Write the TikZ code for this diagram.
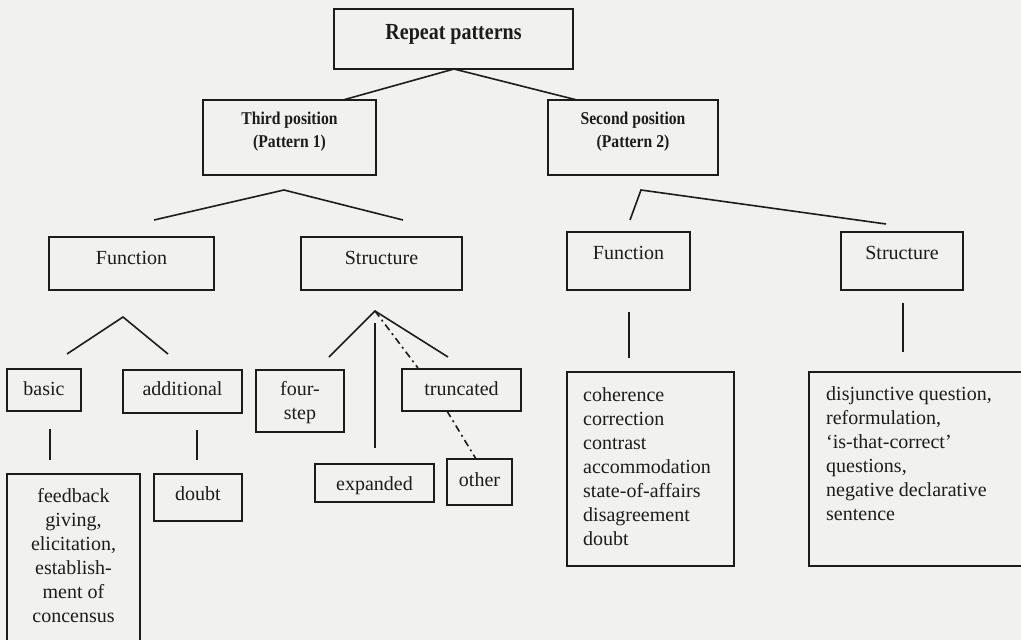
\documentclass[tikz,border=0pt]{standalone}
\usepackage{fontspec}
\setmainfont{Liberation Serif}
\newfontfamily\condfont[FakeStretch=0.87]{Liberation Serif}
\definecolor{bg}{RGB}{241,241,240}
\definecolor{ink}{RGB}{28,28,28}
\newcommand\bx[5]{\node[box, minimum width={(#4-#2)*1pt}, minimum height={(#5-#3)*1pt}] (#1) at (#2,#3) {};}
\begin{document}
\begin{tikzpicture}[x=1pt,y=-1pt,
  box/.style={draw=ink, line width=1.8pt, inner sep=0pt, outer sep=0pt, anchor=north west},
  txt/.style={text=ink, font=\fontsize{20}{24}\selectfont, inner sep=0pt, anchor=base},
  lst/.style={txt, align=left, anchor=base west},
  ttl/.style={text=ink, font=\condfont\bfseries\fontsize{23}{27}\selectfont, inner sep=0pt, anchor=base},
  sub/.style={text=ink, font=\condfont\bfseries\fontsize{18}{23}\selectfont, inner sep=0pt, anchor=base, align=center},
  conn/.style={draw=ink, line width=1.6pt},
  dd/.style={conn, dash pattern=on 7pt off 4pt on 2pt off 4pt}]
\fill[bg] (0,0) rectangle (1021,640);
\useasboundingbox (0,0) rectangle (1021,640);
% boxes
\bx{rp}{334}{9}{573}{69}
\bx{tp}{203}{100}{376}{175}
\bx{sp}{548}{100}{718}{175}
\bx{fnL}{49}{237}{214}{290}
\bx{stL}{301}{237}{462}{290}
\bx{fnR}{567}{232}{690}{290}
\bx{stR}{841}{232}{963}{290}
\bx{bas}{7}{369}{81}{411}
\bx{add}{123}{370}{242}{413}
\bx{fou}{256}{370}{344}{432}
\bx{tru}{402}{369}{521}{411}
\bx{exp}{315}{464}{434}{502}
\bx{oth}{447}{459}{512}{505}
\bx{fee}{7}{474}{140}{660}
\bx{dou}{154}{474}{242}{521}
\bx{fnl}{567}{372}{734}{566}
\bx{stl}{809}{372}{1030}{566}
% texts (multi-line: base = last line)
\node[ttl] (rpt) at (453.5,39) {Repeat patterns};
\node[sub] (tpt) at (289.5,147) {Third position\\(Pattern 1)};
\node[sub] (spt) at (633,147) {Second position\\(Pattern 2)};
\node[txt] (fnLt) at (131.5,264) {Function};
\node[txt] (stLt) at (381.5,264) {Structure};
\node[txt] (fnRt) at (628.5,259) {Function};
\node[txt] (stRt) at (902,259) {Structure};
\node[txt] (bast) at (44,395) {basic};
\node[txt] (addt) at (182.5,395) {additional};
\node[txt, align=center] (fout) at (300,419) {four-\\step};
\node[txt] (trut) at (461.5,395) {truncated};
\node[txt] (expt) at (374.5,490) {expanded};
\node[txt] (otht) at (479.5,486) {other};
\node[txt] (dout) at (198,500) {doubt};
\node[txt, align=center] (feet) at (73.5,622) {feedback\\giving,\\elicitation,\\establish-\\ment of\\concensus};
\node[lst] (fnlt) at (583,545) {coherence\\correction\\contrast\\accommodation\\state-of-affairs\\disagreement\\doubt};
\node[lst] (stlt) at (826,520) {disjunctive question,\\reformulation,\\‘is-that-correct’\\questions,\\negative declarative\\sentence};
% connector points
\coordinate (rpB) at (454,69);
\coordinate (tpT) at (343,100);
\coordinate (spT) at (577,100);
\coordinate (aT) at (284,190);
\coordinate (aTl) at (154,220);
\coordinate (aTr) at (403,220);
\coordinate (aS) at (641,190);
\coordinate (aSl) at (630,220);
\coordinate (aSr) at (886,224);
\coordinate (aF) at (123,317);
\coordinate (aFl) at (67,354);
\coordinate (aFr) at (168,354);
\coordinate (aX) at (375,311);
\coordinate (aXl) at (329,357);
\coordinate (aXr) at (448,357);
\coordinate (aXv) at (375,323);
\coordinate (aXb) at (375,448);
\coordinate (truT) at (418,368);
\coordinate (truB) at (447,411);
\coordinate (othT) at (476,459);
\coordinate (basA) at (50,429);
\coordinate (basB) at (50,460);
\coordinate (addA) at (197,430);
\coordinate (addB) at (197,460);
\coordinate (fnRA) at (629,312);
\coordinate (fnRB) at (629,358);
\coordinate (stRA) at (903,303);
\coordinate (stRB) at (903,352);
% connectors
\draw[conn] (tpT) -- (rpB) -- (spT);
\draw[conn] (aTl) -- (aT) -- (aTr);
\draw[conn] (aSl) -- (aS) -- (aSr);
\draw[conn] (aFl) -- (aF) -- (aFr);
\draw[conn] (aXl) -- (aX) -- (aXr);
\draw[conn] (aXv) -- (aXb);
\draw[dd] (aX) -- (truT);
\draw[dd] (truB) -- (othT);
\draw[conn] (basA) -- (basB);
\draw[conn] (addA) -- (addB);
\draw[conn] (fnRA) -- (fnRB);
\draw[conn] (stRA) -- (stRB);
\end{tikzpicture}
\end{document}
